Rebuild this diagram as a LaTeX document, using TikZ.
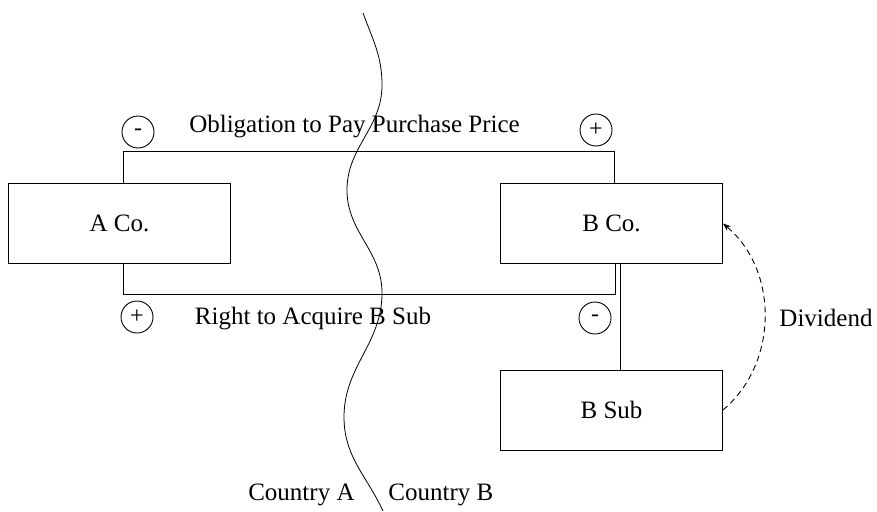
\documentclass[tikz,border=0pt]{standalone}
\usepackage{fontspec}
\setmainfont{Liberation Serif}
\usetikzlibrary{arrows.meta}
\begin{document}
\begin{tikzpicture}[x=1pt,y=1pt,line width=0.9pt,
  firm/.style={draw,minimum width=222pt,minimum height=80pt,font=\fontsize{25}{30}\selectfont},
  sign/.style={draw,circle,minimum size=32pt,inner sep=0pt,font=\fontsize{24}{28}\selectfont},
  lbl/.style={font=\fontsize{25}{30}\selectfont,inner sep=0pt}]
\useasboundingbox (0,0) rectangle (877,-511);
\node[firm](aco) at (119.5,-223) {A Co.};
\node[firm](bco) at (611.5,-223.5) {B Co.};
\node[firm](bsub) at (611.5,-410) {B Sub};
\draw ([xshift=3.5pt]aco.north) -- ++(0,31) -| ([xshift=2.5pt]bco.north);
\draw ([xshift=3.5pt]aco.south) -- ++(0,-31) -| ([xshift=3.5pt]bco.south);
\draw ([xshift=8.5pt]bco.south) -- ([xshift=8.5pt]bsub.north);
\draw[dash pattern=on 6pt off 4pt,-{Stealth[length=8pt,width=6pt]}] (bsub.east) to[bend right=50] (bco.east);
\node[sign](s1) at (138,-132) {-};
\node[sign](s2) at (596,-130) {+};
\node[sign](s3) at (137,-317) {+};
\node[sign](s4) at (595,-318) {-};
\node[lbl,anchor=base](obl) at (354.5,-132) {Obligation to Pay Purchase Price};
\node[lbl,anchor=base](rgt) at (313,-324) {Right to Acquire B Sub};
\node[lbl,anchor=base west](div) at (779,-326) {Dividend};
\node[lbl,anchor=base east](ca) at (355,-500) {Country A};
\node[lbl,anchor=base west](cb) at (388,-500) {Country B};
\draw[line width=0.8pt] (363,-13) to[out=-70,in=90] (382,-85) to[out=-90,in=90] (347,-190)
  to[out=-90,in=90] (382,-293) to[out=-90,in=90] (344,-417) to[out=-90,in=115] (383,-511);
\end{tikzpicture}
\end{document}
